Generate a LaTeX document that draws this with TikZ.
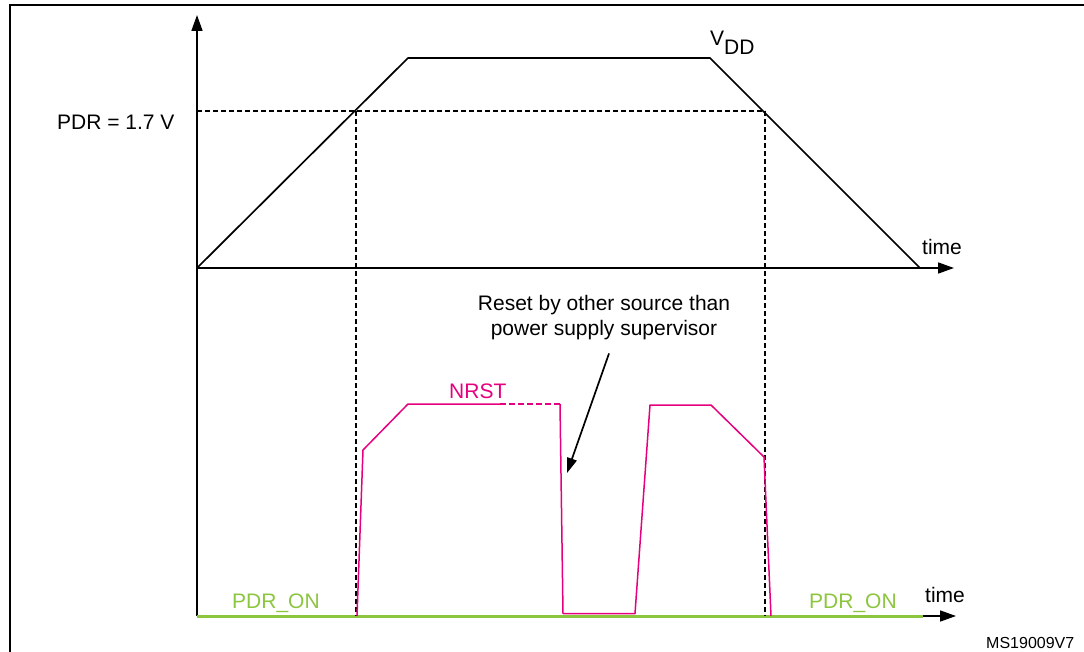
\documentclass[tikz,border=0pt]{standalone}
\usepackage{fontspec}
\setmainfont{Liberation Sans}
\usetikzlibrary{arrows.meta}
\definecolor{nrstpink}{RGB}{230,0,126}
\definecolor{pdrgreen}{RGB}{140,198,63}
\tikzset{
  axis/.style={line width=1.7pt, -{Triangle[length=16pt,width=11pt]}},
  guide/.style={line width=1.2pt, dash pattern=on 5pt off 3pt},
  vddline/.style={line width=1.7pt, line join=round},
  nrstline/.style={nrstpink, line width=1.5pt, line join=round},
  pointer/.style={line width=1.7pt, -{Triangle[length=15pt,width=10pt]}},
  lbl/.style={font=\fontsize{21}{25}\selectfont, inner sep=0pt},
}

\begin{document}
\begin{tikzpicture}[x=1pt,y=-1pt]
\useasboundingbox (0,0) rectangle (1084,652);
% frame
\draw[line width=2.5pt] (10,652) -- (10,5) -- (1084,5);
% axes
\coordinate (o) at (197,268);
\coordinate (ytop) at (197,15);
\coordinate (ybot) at (197,616);
\coordinate (xtop) at (954,268);
\coordinate (xbot) at (956,616);
\coordinate (gend) at (923,616);
\draw[axis] (ybot) -- (ytop);
\draw[axis] (o) -- (xtop);
\draw[axis] (ybot) -- (xbot);
\draw[pdrgreen, line width=3pt] (ybot) -- (gend);
% PDR threshold
\coordinate (pdr) at (197,111);
\coordinate (rise) at (356,111);
\coordinate (fall) at (765,111);
\draw[guide] (pdr) -- (fall);
\draw[guide] (rise) -- (356,616);
\draw[guide] (fall) -- (765,616);
% VDD
\draw[vddline] (o) -- (408,58) -- (710,58) -- (920,268);
% NRST
\draw[nrstline] (357,616) -- (363,450) -- (408,404) -- (500,404);
\draw[nrstline, dash pattern=on 6pt off 3pt] (500,404) -- (560,404);
\draw[nrstline] (560,404) -- (563,613.5) -- (635,613.5) -- (650,405)
  -- (711,405) -- (764,457) -- (771,616);
% labels
\node[lbl, anchor=base west] (pdrlvl) at (57,130) {PDR = 1.7 V};
\node[lbl, anchor=base west] (vdd) at (710,46) {V\raisebox{-9pt}{DD}};
\node[lbl, anchor=base west] (ttop) at (922,255) {time};
\node[lbl, anchor=base west] (tbot) at (925,602) {time};
\node[lbl, anchor=base west, text=pdrgreen] (onl) at (232,608) {PDR\_ON};
\node[lbl, anchor=base west, text=pdrgreen] (onr) at (809,608) {PDR\_ON};
\node[lbl, anchor=base west, text=nrstpink] (nrst) at (449,398) {NRST};
\node[lbl, align=center] (note) at (604,318) {Reset by other source than\\power supply supervisor};
\node[font=\fontsize{16}{19}\selectfont, inner sep=0pt, anchor=base west] (ref) at (986,648) {MS19009V7};
% annotation arrow
\coordinate (rsttip) at (567,473);
\draw[pointer] (note.south) ++(5,13) -- (rsttip);
\end{tikzpicture}
\end{document}
